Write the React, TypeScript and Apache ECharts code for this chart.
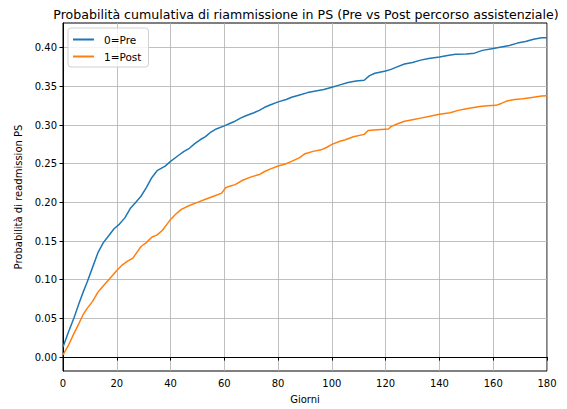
import React, { useEffect, useRef } from "react";
import * as echarts from "echarts";

const preSeries: [number, number][] = [
  [0, 0.013], [2, 0.032], [4, 0.05], [6, 0.07], [7.5, 0.084], [9, 0.097], [11, 0.116], [13, 0.135],
  [15, 0.148], [17, 0.157], [19, 0.166], [21, 0.172], [23, 0.18], [25, 0.192], [27, 0.2], [29, 0.208],
  [31, 0.219], [33, 0.232], [35, 0.241], [38, 0.247], [40, 0.253], [43, 0.261], [45, 0.266], [47, 0.27],
  [49, 0.276], [51, 0.281], [53, 0.285], [55, 0.291], [57, 0.295], [60, 0.299], [62, 0.302], [64, 0.305],
  [66, 0.309], [68, 0.312], [71, 0.316], [73, 0.319], [75, 0.323], [77, 0.326], [80, 0.33], [83, 0.333],
  [85, 0.336], [88, 0.339], [91, 0.342], [94, 0.344], [97, 0.346], [100, 0.349], [103, 0.352], [106, 0.355],
  [109, 0.357], [112, 0.358], [114, 0.364], [116, 0.367], [120, 0.37], [122, 0.372], [124, 0.375], [127, 0.379],
  [130, 0.381], [133, 0.384], [136, 0.386], [140, 0.388], [143, 0.39], [146, 0.3915], [150, 0.392], [153, 0.393],
  [156, 0.3966], [160, 0.399], [163, 0.401], [166, 0.403], [169, 0.406], [172, 0.408], [175, 0.411], [178, 0.413],
  [180, 0.413],
];

const postSeries: [number, number][] = [
  [0, 0.003], [2, 0.015], [4, 0.03], [6, 0.044], [7.5, 0.055], [9, 0.063], [11, 0.072], [13, 0.084],
  [14, 0.088], [16, 0.096], [18, 0.104], [20, 0.112], [22, 0.119], [24, 0.124], [26, 0.128], [28, 0.138],
  [29, 0.143], [31, 0.148], [33, 0.155], [35, 0.158], [37, 0.164], [38.5, 0.171], [40, 0.178], [42, 0.185],
  [44, 0.191], [47, 0.196], [50, 0.2], [53, 0.204], [56, 0.208], [59, 0.212], [60.5, 0.219], [62, 0.221],
  [64, 0.223], [67, 0.229], [70, 0.233], [73, 0.236], [75, 0.24], [77, 0.243], [80, 0.247], [83, 0.25],
  [85, 0.253], [88, 0.258], [90, 0.263], [93, 0.266], [96, 0.268], [98, 0.271], [100, 0.275], [103, 0.279],
  [105, 0.281], [108, 0.285], [112, 0.288], [113.5, 0.293], [117, 0.294], [121, 0.295], [122, 0.298], [124, 0.301],
  [127, 0.305], [130, 0.307], [133, 0.309], [136, 0.311], [140, 0.314], [144, 0.316], [147, 0.319], [150, 0.321],
  [155, 0.324], [158, 0.325], [161, 0.3255], [163, 0.328], [165, 0.331], [168, 0.333], [171, 0.334], [175, 0.336],
  [178, 0.3375], [180, 0.338],
];

const yTicks = [0, 0.05, 0.1, 0.15, 0.2, 0.25, 0.3, 0.35, 0.4];
const seriesNames = ["0=Pre", "1=Post"];
const titleText = "Probabilità cumulativa di riammissione in PS (Pre vs Post percorso assistenziale)";
const xName = "Giorni";
const yName = "Probabilità di readmission PS";

const FONT = "DejaVu Sans";

export default function App() {
  const ref = useRef<HTMLDivElement>(null);
  useEffect(() => {
    if (!ref.current) return;
    const chart = echarts.init(ref.current, undefined, { renderer: "svg" });
    chart.setOption({
      animation: false,
      textStyle: { fontFamily: FONT },
      title: {
        text: titleText,
        left: 301,
        textAlign: "center",
        top: 3,
        textStyle: { fontFamily: FONT, fontSize: 12.6, fontWeight: "normal", color: "#000" },
      },
      legend: {
        orient: "vertical",
        left: 68,
        top: 28,
        data: seriesNames,
        icon: "rect",
        itemWidth: 21,
        itemHeight: 2,
        itemGap: 6,
        padding: [6, 7, 5, 5],
        borderColor: "#d0d0d0",
        borderWidth: 1,
        borderRadius: 3,
        backgroundColor: "rgba(255,255,255,0.8)",
        textStyle: { fontFamily: FONT, fontSize: 10.5, color: "#000", padding: [0, 0, 0, 5] },
      },
      grid: {
        left: 63,
        right: 20,
        top: 23,
        bottom: 34,
        show: true,
        borderColor: "#000",
        borderWidth: 1,
        backgroundColor: "transparent",
      },
      xAxis: {
        type: "value",
        min: 0,
        max: 180,
        interval: 20,
        name: xName,
        nameLocation: "middle",
        nameGap: 23,
        nameTextStyle: { fontFamily: FONT, fontSize: 10, color: "#000" },
        axisLine: { show: true, lineStyle: { color: "#000", width: 1 } },
        axisTick: { show: true, length: 3.5, lineStyle: { color: "#000" } },
        axisLabel: { fontFamily: FONT, fontSize: 10, color: "#000", margin: 7 },
        splitLine: { show: true, lineStyle: { color: "#b0b0b0", width: 0.8 } },
      },
      yAxis: {
        type: "value",
        min: -0.018,
        max: 0.432,
        name: yName,
        nameLocation: "middle",
        nameGap: 39,
        nameTextStyle: { fontFamily: FONT, fontSize: 10, color: "#000" },
        axisLine: { show: true, lineStyle: { color: "#000", width: 1 } },
        axisTick: { show: true, length: 3.5, lineStyle: { color: "#000" }, customValues: yTicks },
        axisLabel: {
          fontFamily: FONT,
          fontSize: 10,
          color: "#000",
          margin: 6,
          customValues: yTicks,
          formatter: (v: number) => v.toFixed(2),
        },
        splitLine: { show: true, lineStyle: { color: "#b0b0b0", width: 0.8 } },
      },
      series: [
        {
          name: seriesNames[0],
          type: "line",
          data: preSeries,
          showSymbol: false,
          symbol: "none",
          lineStyle: { color: "#1f77b4", width: 1.5 },
          itemStyle: { color: "#1f77b4" },
        },
        {
          name: seriesNames[1],
          type: "line",
          data: postSeries,
          showSymbol: false,
          symbol: "none",
          lineStyle: { color: "#ff7f0e", width: 1.5 },
          itemStyle: { color: "#ff7f0e" },
        },
      ],
    });
    return () => chart.dispose();
  }, []);
  return <div ref={ref} style={{ width: 567, height: 409, position: "absolute", left: 0, top: 0 }} />;
}
